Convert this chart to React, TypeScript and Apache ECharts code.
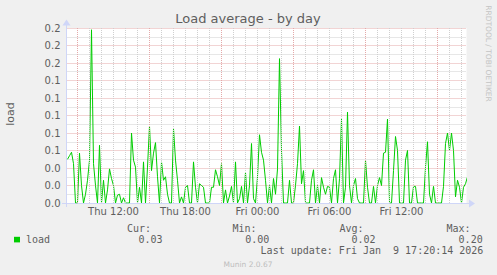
import React, { useEffect, useRef } from "react";
import * as echarts from "echarts";

const TITLE = "Load average - by day";
const Y_NAME = "load";
const SERIES_NAME = "load";
const SERIES_COLOR = "#00CC00";

// x axis: minutes since Thu 08:05 (left edge), 400 px = 2000 min
const X_MIN = 0;
const X_MAX = 2000;
const DATA_START_MIN = 5;
const STEP_MIN = 10;

const LOAD = [
  0.05, 0.054, 0.058, 0.045, 0.0, 0.0, 0.057, 0.02, 0.0, 0.01,
  0.026, 0.049, 0.198, 0.045, 0.02, 0.0, 0.066, 0.0, 0.026, 0.0,
  0.015, 0.039, 0.028, 0.02, 0.0, 0.009, 0.01, 0.0, 0.006, 0.0,
  0.0, 0.0, 0.08, 0.049, 0.041, 0.0, 0.018, 0.0, 0.047, 0.0,
  0.041, 0.088, 0.037, 0.057, 0.069, 0.03, 0.0, 0.047, 0.026, 0.03,
  0.01, 0.0, 0.0, 0.085, 0.049, 0.026, 0.0, 0.007, 0.0, 0.018,
  0.02, 0.0, 0.0, 0.047, 0.018, 0.0, 0.022, 0.02, 0.018, 0.0,
  0.0, 0.0, 0.018, 0.018, 0.038, 0.03, 0.02, 0.045, 0.0, 0.015,
  0.0, 0.008, 0.019, 0.0, 0.047, 0.0, 0.005, 0.019, 0.0, 0.035,
  0.0, 0.02, 0.068, 0.005, 0.0, 0.03, 0.078, 0.058, 0.049, 0.026,
  0.0, 0.02, 0.0, 0.028, 0.01, 0.039, 0.165, 0.06, 0.0, 0.0,
  0.0, 0.026, 0.0, 0.0, 0.02, 0.045, 0.088, 0.022, 0.037, 0.0,
  0.0, 0.0, 0.026, 0.038, 0.0, 0.02, 0.0, 0.029, 0.018, 0.01,
  0.019, 0.018, 0.0, 0.028, 0.038, 0.0, 0.028, 0.096, 0.0, 0.018,
  0.104, 0.02, 0.0, 0.02, 0.028, 0.005, 0.0, 0.0, 0.0, 0.049,
  0.018, 0.0, 0.0, 0.019, 0.0, 0.02, 0.029, 0.02, 0.057, 0.058,
  0.096, 0.0, 0.0, 0.037, 0.076, 0.06, 0.0, 0.0, 0.0, 0.049,
  0.06, 0.0, 0.0, 0.019, 0.019, 0.0, 0.0, 0.0, 0.0, 0.041,
  0.07, 0.01, 0.0, 0.019, 0.0, 0.0, 0.0, 0.0, 0.019, 0.068,
  0.08, 0.06, 0.08, 0.06, 0.007, 0.026, 0.018, 0.0, 0.018, 0.022,
  0.03,
];

const X_TICK_VALUES = [235, 595, 955, 1315, 1675];
const X_TICK_LABELS = ["Thu 12:00", "Thu 18:00", "Fri 00:00", "Fri 06:00", "Fri 12:00"];
const HOUR_GRID_FIRST = 55; // Thu 09:00
const HOUR_MIN = 60;
const MAJOR_EVERY_HOURS = 6;

const Y_MIN = 0;
const Y_MAX = 0.2;
const Y_INTERVAL = 0.02;
const Y_TICK_VALUES = [0, 0.02, 0.04, 0.06, 0.08, 0.1, 0.12, 0.14, 0.16, 0.18, 0.2];
const Y_TICK_LABELS = ["0.0", "0.0", "0.0", "0.1", "0.1", "0.1", "0.1", "0.1", "0.2", "0.2", "0.2"];

const STAT_NAMES = ["Cur:", "Min:", "Avg:", "Max:"];
const STAT_VALUES = ["0.03", "0.00", "0.02", "0.20"];
const LAST_UPDATE = "Last update: Fri Jan  9 17:20:14 2026";
const WATERMARK = "RRDTOOL / TOBI OETIKER";
const FOOTER = "Munin 2.0.67";

const FONT = "DejaVu Sans";
const MONO = "DejaVu Sans Mono";
const TEXT_COLOR = "#5e5e5e";
const AXIS_COLOR = "#CFD6F8";
const MAJOR_GRID = "#e4a9a9";
const MINOR_GRID = "#cfcfcf";

function txt(x: number, y: number, text: string, opts: any = {}) {
  const align = opts.align || "left";
  const valign = opts.valign || "middle";
  return {
    type: "text",
    x,
    y,
    rotation: opts.rotation || 0,
    silent: true,
    style: {
      text,
      fill: opts.color || TEXT_COLOR,
      fontSize: opts.size || 10,
      fontFamily: opts.font || FONT,
      align,
      verticalAlign: valign,
      textAlign: align,
      textVerticalAlign: valign,
    },
  };
}

export default function App() {
  const ref = useRef<HTMLDivElement>(null);

  useEffect(() => {
    if (!ref.current) return;
    const chart = echarts.init(ref.current, undefined, { renderer: "svg" });

    const data = LOAD.map((v, i) => [DATA_START_MIN + i * STEP_MIN, v]);

    const hourLines: any[] = [];
    for (let k = 0; HOUR_GRID_FIRST + k * HOUR_MIN <= X_MAX; k++) {
      const t = HOUR_GRID_FIRST + k * HOUR_MIN;
      const major = k % MAJOR_EVERY_HOURS === 0;
      hourLines.push({
        xAxis: t,
        lineStyle: { color: major ? MAJOR_GRID : MINOR_GRID, type: [1, 1], width: 1 },
      });
    }

    const statX = [
      [127, 138.5],
      [232.5, 245.3],
      [339.5, 351.5],
      [446.5, 458.6],
    ];

    const graphic: any[] = [
      txt(248, 18.8, TITLE, { align: "center", size: 13 }),
      txt(10, 114, Y_NAME, { align: "center", size: 11, rotation: Math.PI / 2 }),
      txt(488.5, 53.5, WATERMARK, { align: "center", size: 7.5, rotation: -Math.PI / 2, color: "#c4c4c4" }),
      txt(248, 264.3, FOOTER, { align: "center", size: 7.5, color: "#bdbdbd" }),
      // axis extensions & arrows
      { type: "line", silent: true, shape: { x1: 66.5, y1: 28, x2: 66.5, y2: 22 }, style: { stroke: AXIS_COLOR, lineWidth: 1 } },
      { type: "line", silent: true, shape: { x1: 66.5, y1: 203, x2: 66.5, y2: 207 }, style: { stroke: AXIS_COLOR, lineWidth: 1 } },
      { type: "polygon", silent: true, shape: { points: [[66.5, 19.5], [62.5, 25.5], [70.5, 25.5]] }, style: { fill: AXIS_COLOR } },
      { type: "line", silent: true, shape: { x1: 62, y1: 203.5, x2: 67, y2: 203.5 }, style: { stroke: AXIS_COLOR, lineWidth: 1 } },
      { type: "line", silent: true, shape: { x1: 466, y1: 203.5, x2: 470, y2: 203.5 }, style: { stroke: AXIS_COLOR, lineWidth: 1 } },
      { type: "polygon", silent: true, shape: { points: [[475, 203.5], [469, 199.5], [469, 207.5]] }, style: { fill: AXIS_COLOR } },
      // legend
      { type: "rect", silent: true, shape: { x: 14, y: 236.8, width: 6, height: 5.6 }, style: { fill: SERIES_COLOR } },
      txt(26, 239.6, SERIES_NAME, { font: MONO }),
      txt(260.6, 250.8, LAST_UPDATE, { font: MONO }),
    ];
    STAT_NAMES.forEach((n, i) => {
      graphic.push(txt(statX[i][0], 228.2, n, { font: MONO }));
      graphic.push(txt(statX[i][1], 239.6, STAT_VALUES[i], { font: MONO }));
    });

    chart.setOption({
      animation: false,
      backgroundColor: "#F0F0F0",
      textStyle: { fontFamily: FONT },
      grid: {
        left: 66.5,
        top: 28,
        width: 400,
        height: 175,
        show: true,
        backgroundColor: "#FFFFFF",
        borderWidth: 0,
        containLabel: false,
      },
      xAxis: {
        type: "value",
        min: X_MIN,
        max: X_MAX,
        axisLine: { show: true, lineStyle: { color: AXIS_COLOR, width: 1 } },
        axisTick: { show: false },
        splitLine: { show: false },
        axisLabel: {
          customValues: X_TICK_VALUES,
          margin: 3,
          color: TEXT_COLOR,
          fontSize: 10,
          fontFamily: FONT,
          formatter: (v: number) => {
            const i = X_TICK_VALUES.indexOf(v);
            return i >= 0 ? X_TICK_LABELS[i] : "";
          },
        },
      },
      yAxis: {
        type: "value",
        min: Y_MIN,
        max: Y_MAX,
        interval: Y_INTERVAL,
        axisLine: { show: true, lineStyle: { color: AXIS_COLOR, width: 1 } },
        axisTick: { show: false },
        axisLabel: {
          margin: 6,
          color: TEXT_COLOR,
          fontSize: 10,
          fontFamily: FONT,
          formatter: (v: number) => {
            const i = Y_TICK_VALUES.findIndex((t) => Math.abs(t - v) < 1e-9);
            return i >= 0 ? Y_TICK_LABELS[i] : "";
          },
        },
        splitLine: { show: true, lineStyle: { color: MAJOR_GRID, type: [1, 1], width: 1 } },
        minorTick: { show: false, splitNumber: 2 },
        minorSplitLine: { show: true, lineStyle: { color: MINOR_GRID, type: [1, 1], width: 1 } },
      },
      series: [
        {
          type: "line",
          data: [],
          z: 1,
          silent: true,
          markLine: {
            silent: true,
            animation: false,
            symbol: ["none", "none"],
            label: { show: false },
            data: hourLines,
          },
        },
        {
          name: SERIES_NAME,
          type: "line",
          data,
          z: 3,
          showSymbol: false,
          symbol: "none",
          lineStyle: { color: SERIES_COLOR, width: 1 },
          itemStyle: { color: SERIES_COLOR },
        },
      ],
      graphic,
    });

    return () => chart.dispose();
  }, []);

  return (
    <div
      ref={ref}
      style={{ position: "fixed", left: 0, top: 0, width: 497, height: 275 }}
    />
  );
}
